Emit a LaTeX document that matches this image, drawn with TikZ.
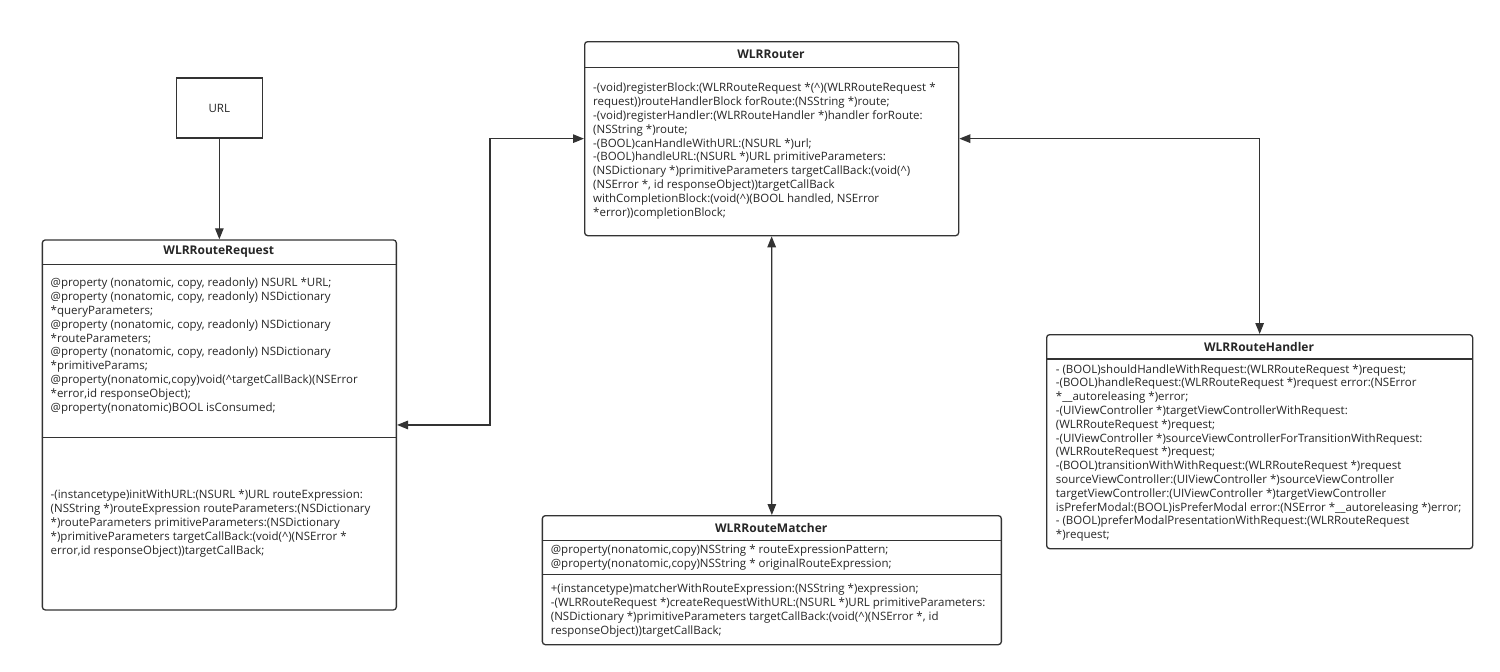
\documentclass[tikz,border=0pt]{standalone}
\usepackage{fontspec}
\setmainfont{Open Sans}
\usetikzlibrary{arrows.meta,calc}
\definecolor{ln}{HTML}{333333}
\definecolor{tx}{HTML}{262626}
\begin{document}
\begin{tikzpicture}[x=1pt,y=-1pt,
  classbox/.style={draw=ln, line width=1.3pt, rounded corners=3pt, fill=white, inner sep=0pt, anchor=north west},
  sepline/.style={draw=ln, line width=1.2pt},
  title/.style={font=\fontsize{12}{13}\selectfont\bfseries, text=tx, inner sep=0pt},
  body/.style={font=\fontsize{11.5}{13.8}\selectfont, text=tx, align=left, anchor=west, inner sep=0pt},
  conn/.style={draw=ln, line width=1.3pt},
  tip/.style={-{Triangle[length=11pt,width=8.5pt]}},
  bitip/.style={{Triangle[length=11pt,width=8.5pt]}-{Triangle[length=11pt,width=8.5pt]}}
]
\useasboundingbox (0,0) rectangle (1500,672);

% URL
\node[classbox, rounded corners=0pt, minimum width=86pt, minimum height=60pt] (url) at (175.7,77.3) {};
\node[body, anchor=center] (urlt) at (url.center) {URL};

% WLRRouteRequest
\node[classbox, minimum width=354pt, minimum height=370pt] (req) at (41.7,239.3) {};
\draw[sepline] (41.7,264.3) -- (395.7,264.3);
\draw[sepline] (41.7,437.5) -- (395.7,437.5);
\node[title] (reqt) at (218.7,252) {WLRRouteRequest};
\node[body] (reqa) at (50.5,346) {@property (nonatomic, copy, readonly) NSURL *URL;\\
@property (nonatomic, copy, readonly) NSDictionary\\
*queryParameters;\\
@property (nonatomic, copy, readonly) NSDictionary\\
*routeParameters;\\
@property (nonatomic, copy, readonly) NSDictionary\\
*primitiveParams;\\
@property(nonatomic,copy)void(\textasciicircum targetCallBack)(NSError\\
*error,id responseObject);\\
@property(nonatomic)BOOL isConsumed;};
\node[body] (reqm) at (50.5,523.5) {-(instancetype)initWithURL:(NSURL *)URL routeExpression:\\
(NSString *)routeExpression routeParameters:(NSDictionary\\
*)routeParameters primitiveParameters:(NSDictionary\\
*)primitiveParameters targetCallBack:(void(\textasciicircum)(NSError *\\
error,id responseObject))targetCallBack;};

% WLRRouter
\node[classbox, minimum width=374pt, minimum height=194pt] (router) at (584,41) {};
\draw[sepline] (584,67.3) -- (958,67.3);
\node[title] (routert) at (771,54) {WLRRouter};
\node[body] (routerm) at (593,151) {-(void)registerBlock:(WLRRouteRequest *(\textasciicircum)(WLRRouteRequest *\\
request))routeHandlerBlock forRoute:(NSString *)route;\\
-(void)registerHandler:(WLRRouteHandler *)handler forRoute:\\
(NSString *)route;\\
-(BOOL)canHandleWithURL:(NSURL *)url;\\
-(BOOL)handleURL:(NSURL *)URL primitiveParameters:\\
(NSDictionary *)primitiveParameters targetCallBack:(void(\textasciicircum)\\
(NSError *, id responseObject))targetCallBack\\
withCompletionBlock:(void(\textasciicircum)(BOOL handled, NSError\\
*error))completionBlock;};

% WLRRouteHandler
\node[classbox, minimum width=426pt, minimum height=214pt] (handler) at (1046,334) {};
\draw[sepline] (1046,359) -- (1472,359);
\node[title] (handlert) at (1259,347) {WLRRouteHandler};
\node[body] (handlerm) at (1055.7,453) {- (BOOL)shouldHandleWithRequest:(WLRRouteRequest *)request;\\
-(BOOL)handleRequest:(WLRRouteRequest *)request error:(NSError\\
*\_\_autoreleasing *)error;\\
-(UIViewController *)targetViewControllerWithRequest:\\
(WLRRouteRequest *)request;\\
-(UIViewController *)sourceViewControllerForTransitionWithRequest:\\
(WLRRouteRequest *)request;\\
-(BOOL)transitionWithWithRequest:(WLRRouteRequest *)request\\
sourceViewController:(UIViewController *)sourceViewController\\
targetViewController:(UIViewController *)targetViewController\\
isPreferModal:(BOOL)isPreferModal error:(NSError *\_\_autoreleasing *)error;\\
- (BOOL)preferModalPresentationWithRequest:(WLRRouteRequest\\
*)request;};

% WLRRouteMatcher
\node[classbox, minimum width=459pt, minimum height=129pt] (matcher) at (541.7,515) {};
\draw[sepline] (541.7,540.7) -- (1000.7,540.7);
\draw[sepline] (541.7,574.3) -- (1000.7,574.3);
\node[title] (matchert) at (771.2,528) {WLRRouteMatcher};
\node[body] (matchera) at (550.7,557.5) {@property(nonatomic,copy)NSString * routeExpressionPattern;\\
@property(nonatomic,copy)NSString * originalRouteExpression;};
\node[body] (matcherm) at (550.7,610.5) {+(instancetype)matcherWithRouteExpression:(NSString *)expression;\\
-(WLRRouteRequest *)createRequestWithURL:(NSURL *)URL primitiveParameters:\\
(NSDictionary *)primitiveParameters targetCallBack:(void(\textasciicircum)(NSError *, id\\
responseObject))targetCallBack;};

% connectors
\coordinate (bend) at (490,0);
\draw[conn, tip] (url.south) -- (req.north);
\draw[conn, bitip] (req.east) -- (req.east -| bend) -- (router.west -| bend) -- (router.west);
\draw[conn, bitip] (router.east) -| (handler.north);
\draw[conn, bitip] (router.south) -- (matcher.north);
\end{tikzpicture}
\end{document}
